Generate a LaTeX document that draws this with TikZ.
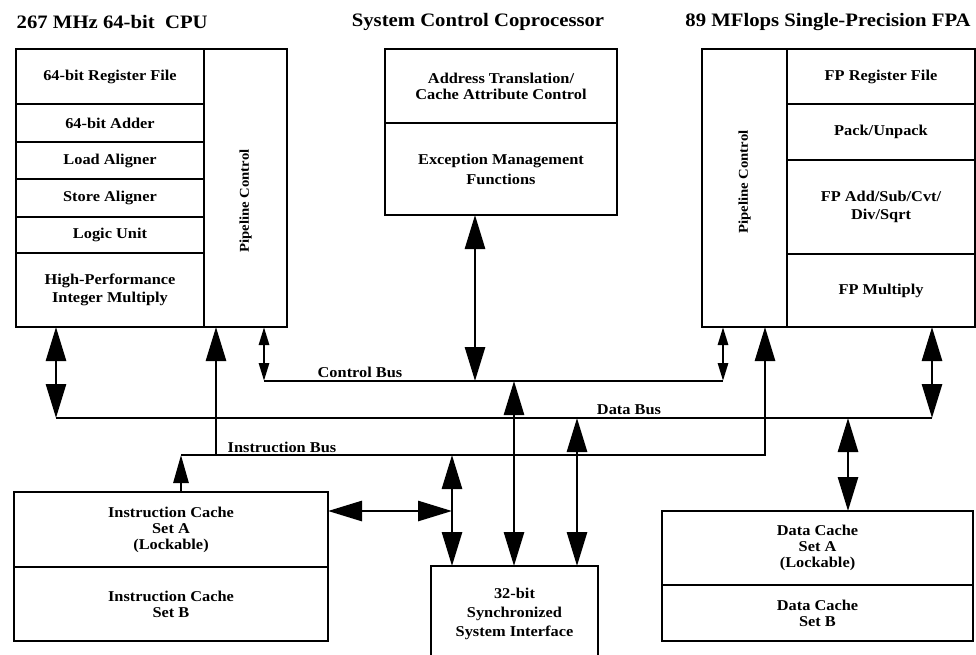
\documentclass[tikz,border=0pt]{standalone}
\usepackage{fontspec}
\setmainfont{Liberation Serif}[FakeStretch=1.09]
\usetikzlibrary{arrows.meta}

\begin{document}
\begin{tikzpicture}[x=1pt, y=-1pt, line width=2.8pt,
	cell/.style={draw, anchor=north west, inner sep=0pt, outer sep=0pt, align=center, font=\fontsize{15}{16}\selectfont\bfseries},
	pipe/.style={cell, font=\fontsize{13.5}{15}\selectfont\bfseries},
	title/.style={font=\fontsize{19}{21}\selectfont\bfseries},
	buslabel/.style={font=\fontsize{15}{16}\selectfont\bfseries},
	dbl/.style={{Triangle[length=34pt,width=20pt]}-{Triangle[length=34pt,width=20pt]}},
	dblsmall/.style={{Triangle[length=18pt,width=10pt]}-{Triangle[length=18pt,width=10pt]}},
	uni/.style={-{Triangle[length=34pt,width=20pt]}},
	unismall/.style={-{Triangle[length=28pt,width=15pt]}}]
	\useasboundingbox (0,0) rectangle (976,654);
	\node[title, anchor=west] (cputitle) at (12,22) {267 MHz 64-bit\ \ CPU};
	\node[title] (cptitle) at (478,22) {System Control Coprocessor};
	\node[title] (fpatitle) at (828,22) {89 MFlops Single-Precision FPA};
	\node[cell, minimum width=188, minimum height=55] (regfile) at (16,49) {64-bit Register File};
	\node[cell, minimum width=188, minimum height=38] (adder) at (16,104) {64-bit Adder};
	\node[cell, minimum width=188, minimum height=37] (loadal) at (16,142) {Load Aligner};
	\node[cell, minimum width=188, minimum height=38] (storeal) at (16,179) {Store Aligner};
	\node[cell, minimum width=188, minimum height=36] (logic) at (16,217) {Logic Unit};
	\node[cell, minimum width=188, minimum height=74] (mult) at (16,253) {High-Performance\\[2pt] Integer Multiply};
	\node[pipe, minimum width=83, minimum height=278] (cpupipe) at (204,49) {\rotatebox{90}{Pipeline Control\hspace{26pt}}};
	\node[cell, minimum width=232, minimum height=74] (addrtr) at (385,49) {Address Translation/\\Cache Attribute Control};
	\node[cell, minimum width=232, minimum height=92] (excp) at (385,123) {Exception Management\\[4pt] Functions};
	\node[pipe, minimum width=85, minimum height=278] (fpapipe) at (702,49) {\rotatebox{90}{\hspace{12pt}Pipeline Control}};
	\node[cell, minimum width=188, minimum height=55] (fpreg) at (787,49) {FP Register File};
	\node[cell, minimum width=188, minimum height=56] (pack) at (787,104) {Pack/Unpack};
	\node[cell, minimum width=188, minimum height=94] (fpadd) at (787,160) {FP Add/Sub/Cvt/\\[2pt] Div/Sqrt};
	\node[cell, minimum width=188, minimum height=73] (fpmul) at (787,254) {FP Multiply};
	\node[cell, minimum width=314, minimum height=75] (icA) at (14,492) {Instruction Cache\\Set A\\(Lockable)};
	\node[cell, minimum width=314, minimum height=74] (icB) at (14,567) {Instruction Cache\\Set B};
	\node[cell, minimum width=167, minimum height=96] (sif) at (431,566) {32-bit\\[3pt] Synchronized\\[3pt] System Interface};
	\node[cell, minimum width=311, minimum height=74] (dcA) at (662,511) {Data Cache\\Set A\\(Lockable)};
	\node[cell, minimum width=311, minimum height=56] (dcB) at (662,585) {Data Cache\\Set B};
	\coordinate (cb1) at (264,381);
	\coordinate (cb2) at (723,381);
	\coordinate (db1) at (56,418);
	\coordinate (db2) at (932,418);
	\coordinate (ib1) at (181,455);
	\coordinate (ib2) at (765,455);
	\coordinate (cpuins) at (216,455);
	\coordinate (cpctl) at (475,381);
	\coordinate (sictl) at (514,381);
	\coordinate (sidat) at (577,418);
	\coordinate (siins) at (452,455);
	\coordinate (icjoin) at (452,511);
	\coordinate (dcdat) at (848,418);
	\draw (cb1) -- (cb2);
	\draw (db1) -- (db2);
	\node[buslabel] (ctlbus) at (360,372) {Control Bus};
	\node[buslabel] (datbus) at (629,410) {Data Bus};
	\node[buslabel] (insbus) at (282,447) {Instruction Bus};
	\draw[dbl] (mult.south -| db1) -- (db1);
	\draw[uni] (cpuins) -- (cpuins |- cpupipe.south);
	\draw[dblsmall] (cpupipe.south -| cb1) -- (cb1);
	\draw[dbl] (excp.south -| cpctl) -- (cpctl);
	\draw[dblsmall] (fpapipe.south -| cb2) -- (cb2);
	\draw[uni] (ib1) -- (ib2) -- (ib2 |- fpapipe.south);
	\draw[dbl] (fpmul.south -| db2) -- (db2);
	\draw[dbl] (sictl) -- (sictl |- sif.north);
	\draw[dbl] (sidat) -- (sidat |- sif.north);
	\draw[dbl] (siins) -- (siins |- sif.north);
	\draw[dbl] (icA.east |- icjoin) -- (icjoin);
	\draw[unismall] (icA.north -| ib1) -- (ib1);
	\draw[dbl] (dcdat) -- (dcdat |- dcA.north);
\end{tikzpicture}
\end{document}
